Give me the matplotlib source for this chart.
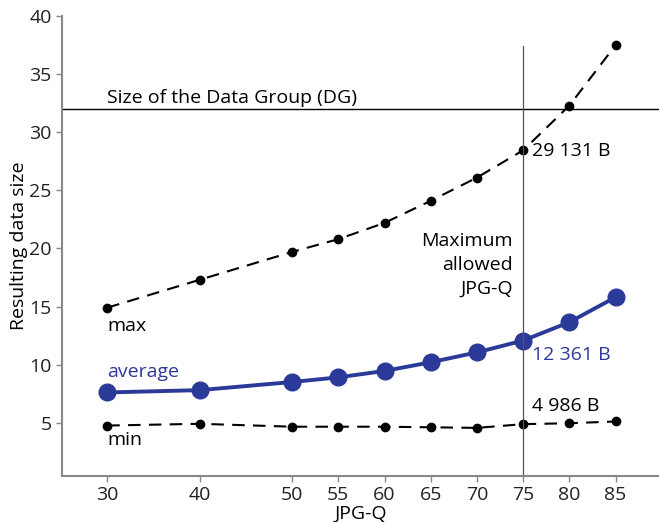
import numpy as np
import matplotlib
matplotlib.use("Agg")
import matplotlib.pyplot as plt

plt.rcParams['font.family'] = ['Open Sans', 'DejaVu Sans']

# JPG quality settings and resulting sizes (kB)
jpg_q = [30, 40, 50, 55, 60, 65, 70, 75, 80, 85]
size_max = [14.9, 17.3, 19.7, 20.8, 22.2, 24.1, 26.1, 28.45, 32.3, 37.5]
size_avg = [7.6, 7.8, 8.5, 8.9, 9.45, 10.2, 11.05, 12.07, 13.65, 15.8]
size_min = [4.75, 4.9, 4.65, 4.65, 4.65, 4.6, 4.55, 4.87, 4.95, 5.1]
dg_size = 32
max_allowed_q = 75

blue = '#2b3a98'
grey = '#888888'
fs = 14

fig = plt.figure(figsize=(6.59, 5.22), dpi=100)
ax = fig.add_axes([0.094, 0.088, 0.906, 0.881])

ax.plot(jpg_q, size_max, color='black', linestyle=(0, (6, 4)), linewidth=1.5,
        marker='o', markersize=6)
ax.plot(jpg_q, size_min, color='black', linestyle=(0, (6, 4)), linewidth=1.5,
        marker='o', markersize=6)
ax.plot(jpg_q, size_avg, color=blue, linewidth=2.8, marker='o', markersize=12)

ax.axhline(dg_size, color='black', linewidth=1)
ax.plot([max_allowed_q, max_allowed_q], [0.4, 37.4], color='#555555', linewidth=0.9)

ax.text(30, 32.2, 'Size of the Data Group (DG)', fontsize=fs, va='bottom')
ax.text(30, 13.3, 'max', fontsize=fs, va='center')
ax.text(30, 3.5, 'min', fontsize=fs, va='center')
ax.text(30, 9.4, 'average', fontsize=fs, va='center', color=blue)
ax.text(76.0, 28.4, '29 131 B', fontsize=fs, va='center')
ax.text(76.0, 10.8, '12 361 B', fontsize=fs, va='center', color=blue)
ax.text(76.0, 6.4, '4 986 B', fontsize=fs, va='center')
ax.text(73.9, 18.6, 'Maximum\nallowed\nJPG-Q', fontsize=fs, va='center',
        ha='right', multialignment='right', linespacing=1.42)

ax.set_xlim(25.1, 89.7)
ax.set_ylim(0.4, 40)
ax.set_xticks(jpg_q)
ax.set_yticks([5, 10, 15, 20, 25, 30, 35, 40])
ax.tick_params(labelsize=fs, length=4, width=1, colors='#222222')
ax.tick_params(axis='both', color=grey)
ax.set_xlabel('JPG-Q', fontsize=fs, labelpad=0)
ax.set_ylabel('Resulting data size', fontsize=fs, labelpad=1)

for s in ['top', 'right']:
    ax.spines[s].set_visible(False)
for s in ['left', 'bottom']:
    ax.spines[s].set_color(grey)
    ax.spines[s].set_linewidth(1.5)

fig.savefig('out.png', dpi=100)
